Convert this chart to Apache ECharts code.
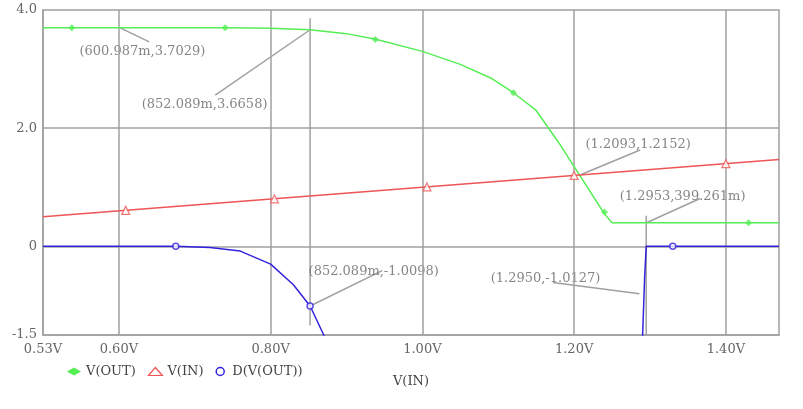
<!DOCTYPE html>
<html><head><meta charset="utf-8">
<script src="https://cdn.jsdelivr.net/npm/echarts@6/dist/echarts.min.js"></script>
<style>html,body{margin:0;background:#fff}#c{width:803px;height:409px}</style>
</head><body><div id="c"></div>
<script>
// values
var voutX = [0.50, 0.60, 0.70, 0.75, 0.80, 0.852, 0.90, 0.94, 1.00, 1.05, 1.09, 1.12, 1.15, 1.18, 1.20, 1.22, 1.24, 1.25, 1.30, 1.40, 1.47];
var voutY = [3.70, 3.70, 3.70, 3.70, 3.69, 3.666, 3.60, 3.50, 3.30, 3.08, 2.85, 2.60, 2.30, 1.75, 1.35, 0.95, 0.55, 0.40, 0.40, 0.40, 0.40];
var voutMarkX = [0.538, 0.74, 0.938, 1.12, 1.24, 1.43];
var voutMarkY = [3.70, 3.70, 3.50, 2.60, 0.58, 0.40];
var vinX = [0.50, 1.47];
var vinMarkX = [0.609, 0.805, 1.006, 1.20, 1.40];
var dX = [0.50, 0.60, 0.675, 0.72, 0.76, 0.80, 0.83, 0.852, 0.87, 0.90, 1.28, 1.29, 1.293, 1.295, 1.30, 1.40, 1.47];
var dY = [0, 0, 0, -0.02, -0.08, -0.30, -0.65, -1.01, -1.50, -2.5, -2.5, -1.60, -0.50, 0, 0, 0, 0];
var dMarkX = [0.675, 0.852, 1.33];
var dMarkY = [0, -1.0098, 0];
var xTicks = [0.5, 0.6, 0.8, 1.0, 1.2, 1.4];
var xTickLabels = ['0.53V', '0.60V', '0.80V', '1.00V', '1.20V', '1.40V'];
var yTicks = [-1.5, 0, 2, 4];
var yTickLabels = ['-1.5', '0', '2.0', '4.0'];
// cursor annotations: [pointX, pointY, lineEndX, lineEndY, text, textX, textY]
var notes = [
  [0.601, 3.7029, 0.64, 3.46, '(600.987m,3.7029)', 0.548, 3.30],
  [0.852, 3.6658, 0.727, 2.56, '(852.089m,3.6658)', 0.63, 2.40],
  [1.2093, 1.2152, 1.287, 1.63, '(1.2093,1.2152)', 1.215, 1.73],
  [1.2953, 0.3993, 1.366, 0.81, '(1.2953,399.261m)', 1.26, 0.85],
  [0.852, -1.0098, 0.947, -0.41, '(852.089m,-1.0098)', 0.85, -0.42],
  [1.286, -0.80, 1.172, -0.61, '(1.2950,-1.0127)', 1.09, -0.55]
];
var cursors = [[0.852, 3.86, -1.34], [1.295, 0.52, -1.5]];

var font = 'DejaVu Serif';
var gridCol = '#a0a0a0';
function zip(a, b) { return a.map(function (v, i) { return [v, b[i]]; }); }
var series = [];
// grid lines
var gl = [];
xTicks.slice(1).forEach(function (x) { gl.push({ xAxis: x }); });
[2, 0].forEach(function (y) { gl.push({ yAxis: y }); });
series.push({ type: 'line', data: [], markLine: { silent: true, symbol: 'none', label: { show: false }, lineStyle: { color: gridCol, type: 'solid', width: 1.5 }, data: gl } });
cursors.forEach(function (c) {
  series.push({ type: 'line', data: [[c[0], c[1]], [c[0], c[2]]], showSymbol: false, lineStyle: { color: gridCol, width: 1.5 }, silent: true });
});
notes.forEach(function (n) {
  series.push({ type: 'line', data: [[n[0], n[1]], [n[2], n[3]]], showSymbol: false, lineStyle: { color: gridCol, width: 1.5 }, silent: true, z: 3 });
  series.push({ type: 'scatter', data: [[n[5], n[6]]], symbolSize: 0, silent: true, z: 4,
    label: { show: true, position: 'right', distance: 0, formatter: n[4], color: '#666', fontFamily: font, fontSize: 13 } });
});
series.push({ name: 'V(OUT)', type: 'line', data: zip(voutX, voutY), showSymbol: false, lineStyle: { color: '#55ee55', width: 1.5 }, itemStyle: { color: '#55ee55' }, z: 5 });
series.push({ name: 'V(IN)', type: 'line', data: zip(vinX, vinX), showSymbol: false, lineStyle: { color: '#ee5555', width: 1.5 }, itemStyle: { color: '#ee5555' }, z: 5 });
series.push({ name: 'D(V(OUT))', type: 'line', data: zip(dX, dY), showSymbol: false, lineStyle: { color: '#3322dd', width: 1.5 }, itemStyle: { color: '#3322dd' }, z: 5, clip: true });
series.push({ type: 'scatter', data: zip(voutMarkX, voutMarkY), symbol: 'diamond', symbolSize: 7, itemStyle: { color: '#55ee55' }, z: 6 });
series.push({ type: 'scatter', data: zip(vinMarkX, vinMarkX), symbol: 'triangle', symbolSize: 8, itemStyle: { color: '#fff', borderColor: '#ee5555', borderWidth: 1.2 }, z: 6 });
series.push({ type: 'scatter', data: zip(dMarkX, dMarkY), symbol: 'circle', symbolSize: 6, itemStyle: { color: '#fff', borderColor: '#3322dd', borderWidth: 1.5 }, z: 6 });

var chart = echarts.init(document.getElementById('c'));
chart.setOption({
  animation: false,
  grid: { left: 43, right: 24, top: 10, bottom: 74 },
  legend: {
    left: 62, top: 360, itemGap: 12, itemWidth: 14, itemHeight: 8,
    textStyle: { fontFamily: font, fontSize: 13, color: '#444' },
    data: [
      { name: 'V(OUT)', icon: 'diamond' },
      { name: 'V(IN)', icon: 'triangle', itemStyle: { color: '#fff', borderColor: '#ee5555', borderWidth: 1.2 } },
      { name: 'D(V(OUT))', icon: 'circle', itemStyle: { color: '#fff', borderColor: '#3322dd', borderWidth: 1.5 } }
    ]
  },
  xAxis: {
    type: 'value', min: 0.5, max: 1.47,
    name: 'V(IN)', nameLocation: 'middle', nameGap: 40,
    nameTextStyle: { fontFamily: font, fontSize: 13, color: '#444' },
    axisLine: { onZero: false, lineStyle: { color: gridCol, width: 1.5 } },
    axisTick: { show: false },
    splitLine: { show: false },
    axisLabel: { customValues: xTicks, fontFamily: font, fontSize: 13, color: '#666',
      formatter: function (v) { var i = xTicks.indexOf(v); return i >= 0 ? xTickLabels[i] : ''; } }
  },
  yAxis: {
    type: 'value', min: -1.5, max: 4,
    axisLine: { show: true, lineStyle: { color: gridCol, width: 1.5 } },
    axisTick: { show: false },
    splitLine: { show: false },
    axisLabel: { customValues: yTicks, fontFamily: font, fontSize: 13, color: '#666', margin: 6,
      formatter: function (v) { var i = yTicks.indexOf(v); return i >= 0 ? yTickLabels[i] : ''; } }
  },
  graphic: [{ type: 'rect', shape: { x: 43, y: 10, width: 736, height: 325 }, style: { fill: 'none', stroke: gridCol, lineWidth: 1.5 }, silent: true, z: 1 }],
  series: series
});
</script>
</body></html>
